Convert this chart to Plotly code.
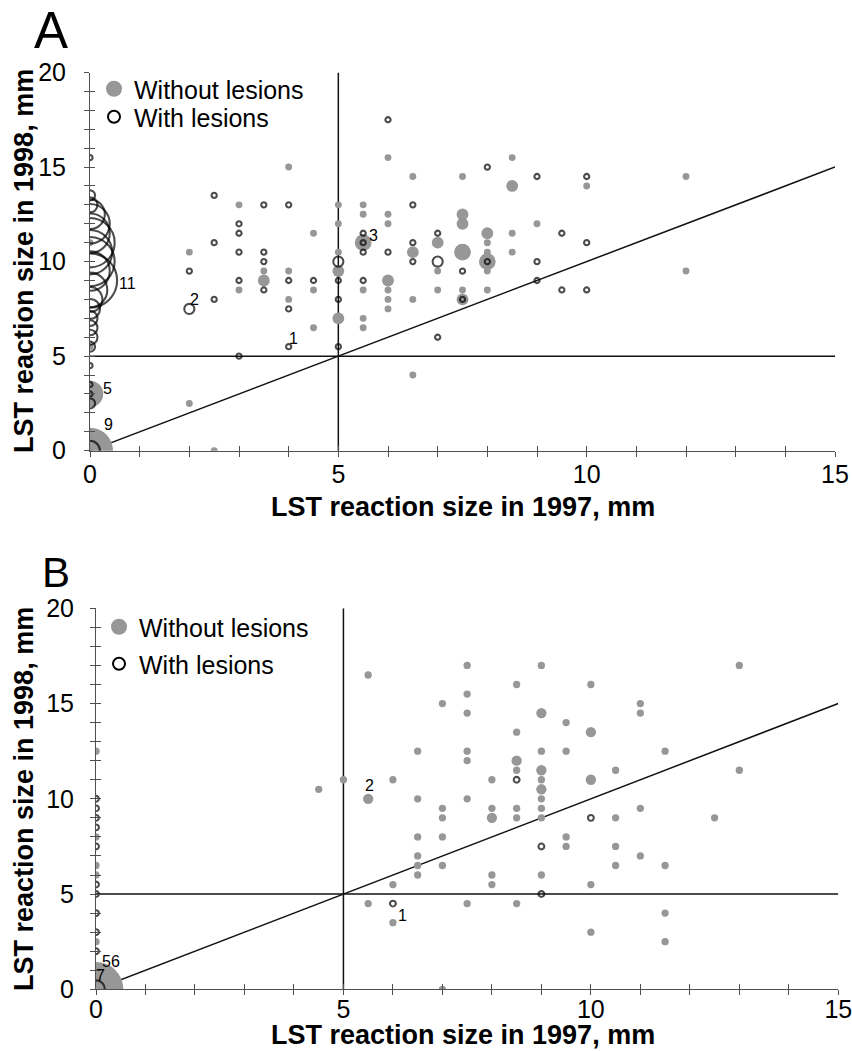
import math
import plotly.graph_objects as go

# ---------------- DATA ----------------
# Panel A: gray = without lesions, open = with lesions; n = number of subjects at the point
A_gray_x = [0, 0, 0, 0,
            4, 3, 5, 5.5, 5.5, 5, 4.5, 5.5, 2, 5, 5, 3.5, 3.5, 4, 3, 4.5, 5.5, 4, 5, 5.5, 5.5, 4.5, 2, 2.5,
            6, 6.5, 7.5, 8.5, 8.5, 10, 12,
            6, 6, 7.5, 7.5, 9,
            8, 8.5, 7, 6.5, 7.5,
            8, 8, 8, 8, 8.5, 7,
            6, 6, 6, 6, 6.5, 7, 7.5, 7.5, 8, 12, 6.5]
A_gray_y = [11, 5.5, 3, 0,
            15, 13, 13, 13, 12.5, 12, 11.5, 11, 10.5, 10.5, 9.5, 9.5, 9, 9.5, 8.5, 8.5, 8.5, 8, 7, 7, 6.5, 6.5, 2.5, 0,
            15.5, 14.5, 14.5, 15.5, 14, 14, 14.5,
            12.5, 12, 12.5, 12, 12,
            11.5, 11.5, 11, 10.5, 10.5,
            11, 10.5, 10, 9.5, 10.5, 9.5,
            9, 8.5, 8, 7.5, 8, 8.5, 8.5, 8, 8.5, 9.5, 4]
A_gray_n = [1, 1, 5, 9,
            1, 1, 1, 1, 1, 1, 1, 3, 1, 1, 2, 1, 2, 1, 1, 1, 1, 1, 2, 1, 1, 1, 1, 1,
            1, 1, 1, 1, 2, 1, 1,
            1, 1, 2, 2, 1,
            2, 1, 2, 2, 3,
            1, 1, 3, 1, 1, 1,
            2, 1, 1, 1, 1, 1, 1, 2, 1, 1, 1]

A_open_x = [0] * 23 + [
            2.5, 3.5, 4, 3, 3, 2.5, 3, 3.5, 3.5, 2, 3, 4, 4.5, 5, 5.5, 3.5, 2.5, 5, 4, 2, 4, 5, 3, 5, 5.5, 5.5, 5.5,
            6, 6.5, 8, 9, 10, 9.5, 7, 6.5, 10, 6, 8, 6.5, 9, 7, 7.5, 9, 9.5, 10, 7.5, 7]
A_open_y = [15.5, 13.5, 13, 12.5, 12, 11.5, 11, 10.5, 10, 9.5, 9, 8.5, 8, 7.5, 7, 6.5, 6, 5.5, 4.5, 3.5, 3, 2.5, 0,
            13.5, 13, 13, 12, 11.5, 11, 10.5, 10.5, 10, 9.5, 9, 9, 9, 9, 9, 8.5, 8, 8, 7.5, 7.5, 5.5, 5.5, 5, 10, 11.5, 11, 10.5,
            17.5, 13, 15, 14.5, 14.5, 11.5, 11.5, 11, 11, 10.5, 10, 10, 10, 10, 9.5, 9, 8.5, 8.5, 8, 6]
A_open_n = [1, 2, 3, 6, 8, 8, 10, 9, 10, 8, 11, 7, 5, 4, 3, 3, 3, 2, 1, 1, 1, 2, 4,
            1, 1, 1, 1, 1, 1, 1, 1, 1, 1, 1, 1, 1, 1, 1, 1, 1, 1, 1, 2, 1, 1, 1, 2, 1, 1, 1,
            1, 1, 1, 1, 1, 1, 1, 1, 1, 1, 1, 1, 1, 2, 1, 1, 1, 1, 1, 1]

A_labels = ["1", "2", "3", "11", "5", "9"]
A_label_x = [4.1, 2.1, 5.7, 0.75, 0.35, 0.38]
A_label_y = [5.95, 8.0, 11.4, 8.85, 3.3, 1.4]

# Panel B
B_gray_x = [0, 0, 0, 0, 0, 0,
            5.5, 4.5, 5, 6, 5.5, 6, 5.5, 6,
            6.5, 6.5, 6.5, 6.5, 6.5, 6.5,
            7, 7, 7, 7, 7, 7,
            7.5, 7.5, 7.5, 7.5, 7.5, 7.5, 7.5,
            8, 8, 8, 8, 8,
            8.5, 8.5, 8.5, 8.5, 8.5, 8.5, 8.5,
            9, 9, 9, 9, 9, 9, 9, 9, 9, 9,
            9.5, 9.5, 9.5, 9.5,
            10, 10, 10, 10, 10,
            10.5, 10.5, 10.5, 10.5,
            11, 11, 11, 11,
            11.5, 11.5, 11.5, 11.5,
            12.5, 13, 13]
B_gray_y = [12.5, 8, 6.5, 6, 2.5, 0,
            16.5, 10.5, 11, 11, 10, 5.5, 4.5, 3.5,
            12.5, 10, 8, 7, 6.5, 6,
            15, 9.5, 9, 8, 6.5, 0,
            17, 15.5, 14.5, 12.5, 12, 10, 4.5,
            11, 9.5, 9, 6, 5.5,
            16, 13.5, 12, 11.5, 9.5, 9, 4.5,
            17, 14.5, 12.5, 11.5, 11, 10.5, 10, 9.5, 9, 6,
            14, 12.5, 8, 7.5,
            16, 13.5, 11, 5.5, 3,
            11.5, 9, 7.5, 6.5,
            15, 14.5, 9.5, 7,
            12.5, 6.5, 4, 2.5,
            9, 17, 11.5]
B_gray_n = [1, 1, 1, 1, 1, 56,
            1, 1, 1, 1, 2, 1, 1, 1,
            1, 1, 1, 1, 1, 1,
            1, 1, 1, 1, 1, 1,
            1, 1, 1, 1, 1, 1, 1,
            1, 1, 2, 1, 1,
            1, 1, 2, 1, 1, 1, 1,
            1, 2, 1, 2, 1, 2, 1, 1, 1, 1,
            1, 1, 1, 1,
            1, 2, 2, 1, 1,
            1, 1, 1, 1,
            1, 1, 1, 1,
            1, 1, 1, 1,
            1, 1, 1]

B_open_x = [0, 0, 0, 0, 0, 0, 0, 0, 0, 0, 0, 6, 8.5, 10, 9, 9]
B_open_y = [10, 9.5, 9, 8.5, 7.5, 5.5, 5, 4, 3, 2, 0, 4.5, 11, 9, 7.5, 5]
B_open_n = [1, 1, 1, 1, 1, 1, 1, 1, 1, 1, 7, 1, 1, 1, 1, 1]

B_labels = ["56", "7", "2", "1"]
B_label_x = [0.3, 0.09, 5.52, 6.2]
B_label_y = [1.45, 0.75, 10.7, 3.9]

tick_vals_x = list(range(0, 16))
tick_text_x = [str(v) if v % 5 == 0 else "" for v in tick_vals_x]
tick_vals_y = list(range(0, 21))
tick_text_y = [str(v) if v % 5 == 0 else "" for v in tick_vals_y]

X_MAX, Y_MAX = 15, 20
CUTOFF = 5

x_title = "LST reaction size in 1997, mm"
y_title = "LST reaction size in 1998, mm"
legend_names = ["Without lesions", "With lesions"]

# ---------------- STYLE ----------------
W, H = 852, 1051
GRAY = "#979797"
FONT = "Arial, Liberation Sans, sans-serif"
AX_COLOR = "#505050"
OPEN_LW = 2.1


def size_a(n, is_open=False):
    return [4.9 * v + (0.3 if is_open else 2.0) for v in n]


def size_b(n, is_open=False):
    return [7.3 * math.sqrt(v) - (1.5 if is_open else 0.0) for v in n]


def px_x(p):
    return p / W


def px_y(p):
    return 1 - p / H


# plot areas in pixels (left, right, top, bottom)
AREA_A = (90, 835, 72.5, 450.7)
AREA_B = (96, 838.3, 608.3, 989.3)

fig = go.Figure()

panels = [
    ("x", "y", A_gray_x, A_gray_y, A_gray_n, A_open_x, A_open_y, A_open_n, size_a, ("legend", "legend3")),
    ("x2", "y2", B_gray_x, B_gray_y, B_gray_n, B_open_x, B_open_y, B_open_n, size_b, ("legend2", "legend4")),
]

for xa, ya, gx, gy, gn, ox, oy, on, sf, legs in panels:
    fig.add_trace(go.Scatter(
        x=gx, y=gy, mode="markers", xaxis=xa, yaxis=ya, showlegend=False,
        marker=dict(size=sf(gn), color=GRAY, line=dict(width=0), opacity=1),
        hoverinfo="x+y",
    ))
    fig.add_trace(go.Scatter(
        x=ox, y=oy, mode="markers", xaxis=xa, yaxis=ya, showlegend=False,
        marker=dict(size=sf(on, True), symbol="circle-open", color="black",
                    line=dict(width=OPEN_LW, color="black")),
        hoverinfo="x+y",
    ))
    # legend entries
    fig.add_trace(go.Scatter(
        x=[None], y=[None], mode="markers", xaxis=xa, yaxis=ya, name=legend_names[0],
        legend=legs[0], marker=dict(size=16, color=GRAY, line=dict(width=0)),
    ))
    fig.add_trace(go.Scatter(
        x=[None], y=[None], mode="markers", xaxis=xa, yaxis=ya, name=legend_names[1],
        legend=legs[1], marker=dict(size=12, symbol="circle-open", color="black",
                                    line=dict(width=2, color="black")),
    ))

# dummy traces on overlay axes (crossing ticks and label axes)
for xa, ya in [("x3", "y3"), ("x4", "y4"), ("x", "y5"), ("x2", "y6")]:
    fig.add_trace(go.Scatter(x=[None], y=[None], xaxis=xa, yaxis=ya, showlegend=False))


def axis_common(rng, tv, tt, dom, anchor, ticks="outside", labels=True, standoff=0,
                line=True, ticklen=5, tickcolor=AX_COLOR):
    d = dict(
        range=rng, domain=dom, anchor=anchor, tickvals=tv, ticktext=tt,
        ticks=ticks, ticklen=ticklen, tickwidth=1, tickcolor=tickcolor,
        showgrid=False, zeroline=False, automargin=False,
        showticklabels=labels,
        tickfont=dict(family=FONT, size=25, color="black"),
        fixedrange=True, showline=line,
    )
    if line:
        d.update(linecolor=AX_COLOR, linewidth=1)
    if labels:
        d.update(ticklabelstandoff=standoff, ticklabeloverflow="allow")
    return d


def domains(area):
    l, r, t, b = area
    return [px_x(l), px_x(r)], [px_y(b), px_y(t)]


dxA, dyA = domains(AREA_A)
dxB, dyB = domains(AREA_B)


def legend_at(left, top):
    return dict(x=px_x(left), y=px_y(top), xanchor="left", yanchor="top",
                font=dict(family=FONT, size=25, color="black"),
                bgcolor="rgba(0,0,0,0)", borderwidth=0, itemwidth=30)


CLEAR = "rgba(0,0,0,0)"
layout = dict(
    width=W, height=H, autosize=False,
    margin=dict(l=0, r=0, t=0, b=0),
    template="none",
    paper_bgcolor="white", plot_bgcolor="rgba(0,0,0,0)",
    xaxis=axis_common([0, X_MAX], tick_vals_x, tick_text_x, dxA, "y", standoff=-4),
    yaxis=axis_common([0, Y_MAX], tick_vals_y, tick_text_y, dyA, "x", labels=False),
    xaxis2=axis_common([0, X_MAX], tick_vals_x, tick_text_x, dxB, "y2", standoff=-7),
    yaxis2=axis_common([0, Y_MAX], tick_vals_y, tick_text_y, dyB, "x2", labels=False),
    xaxis3=dict(axis_common([0, X_MAX], tick_vals_x, tick_text_x, dxA, "y3", "inside", False, line=False), overlaying="x"),
    yaxis3=dict(axis_common([0, Y_MAX], tick_vals_y, tick_text_y, dyA, "x3", "inside", False, line=False), overlaying="y"),
    xaxis4=dict(axis_common([0, X_MAX], tick_vals_x, tick_text_x, dxB, "y4", "inside", False, line=False), overlaying="x2"),
    yaxis4=dict(axis_common([0, Y_MAX], tick_vals_y, tick_text_y, dyB, "x4", "inside", False, line=False), overlaying="y2"),
    # label-only y axes (transparent long ticks set the label distance)
    yaxis5=dict(axis_common([0, Y_MAX], tick_vals_y, tick_text_y, dyA, "x", line=False,
                            ticklen=18, tickcolor=CLEAR), overlaying="y"),
    yaxis6=dict(axis_common([0, Y_MAX], tick_vals_y, tick_text_y, dyB, "x2", line=False,
                            ticklen=16, tickcolor=CLEAR), overlaying="y2"),
    legend=legend_at(94, 66),
    legend3=legend_at(94, 94),
    legend2=legend_at(99, 604),
    legend4=legend_at(99, 641),
)
fig.update_layout(**layout)

# reference lines: cutoff lines and identity line
line_style = dict(color="#111111", width=1.5)
for xa, ya in [("x", "y"), ("x2", "y2")]:
    fig.add_shape(type="line", xref=xa, yref=ya, x0=CUTOFF, x1=CUTOFF, y0=0, y1=Y_MAX, line=line_style, layer="below")
    fig.add_shape(type="line", xref=xa, yref=ya, x0=0, x1=X_MAX, y0=CUTOFF, y1=CUTOFF, line=line_style, layer="below")
    fig.add_shape(type="line", xref=xa, yref=ya, x0=0, x1=X_MAX, y0=0, y1=X_MAX, line=line_style, layer="below")

# bubble count labels
for labs, lx, ly, xa, ya in [(A_labels, A_label_x, A_label_y, "x", "y"), (B_labels, B_label_x, B_label_y, "x2", "y2")]:
    for t, x, y in zip(labs, lx, ly):
        fig.add_annotation(text=t, x=x, y=y, xref=xa, yref=ya, showarrow=False,
                           font=dict(family=FONT, size=16, color="black"))

title_font = dict(family=FONT, size=27, color="black", weight="bold")
# axis titles
fig.add_annotation(text=x_title, x=px_x(463), y=px_y(507), xref="paper", yref="paper",
                   showarrow=False, font=title_font, xanchor="center", yanchor="middle")
fig.add_annotation(text=x_title, x=px_x(463), y=px_y(1035), xref="paper", yref="paper",
                   showarrow=False, font=title_font, xanchor="center", yanchor="middle")
fig.add_annotation(text=y_title, x=px_x(24), y=px_y(261), xref="paper", yref="paper",
                   showarrow=False, font=title_font, textangle=-90, xanchor="center", yanchor="middle")
fig.add_annotation(text=y_title, x=px_x(24), y=px_y(799), xref="paper", yref="paper",
                   showarrow=False, font=title_font, textangle=-90, xanchor="center", yanchor="middle")

# panel letters
fig.add_annotation(text="A", x=px_x(51), y=px_y(31), xref="paper", yref="paper", showarrow=False,
                   font=dict(family=FONT, size=51, color="black"), xanchor="center", yanchor="middle")
fig.add_annotation(text="B", x=px_x(56), y=px_y(572), xref="paper", yref="paper", showarrow=False,
                   font=dict(family=FONT, size=42, color="black"), xanchor="center", yanchor="middle")

fig.write_html("out.html", config={"displayModeBar": False},
               post_script="document.body.style.margin='0';document.body.style.overflow='hidden';")
